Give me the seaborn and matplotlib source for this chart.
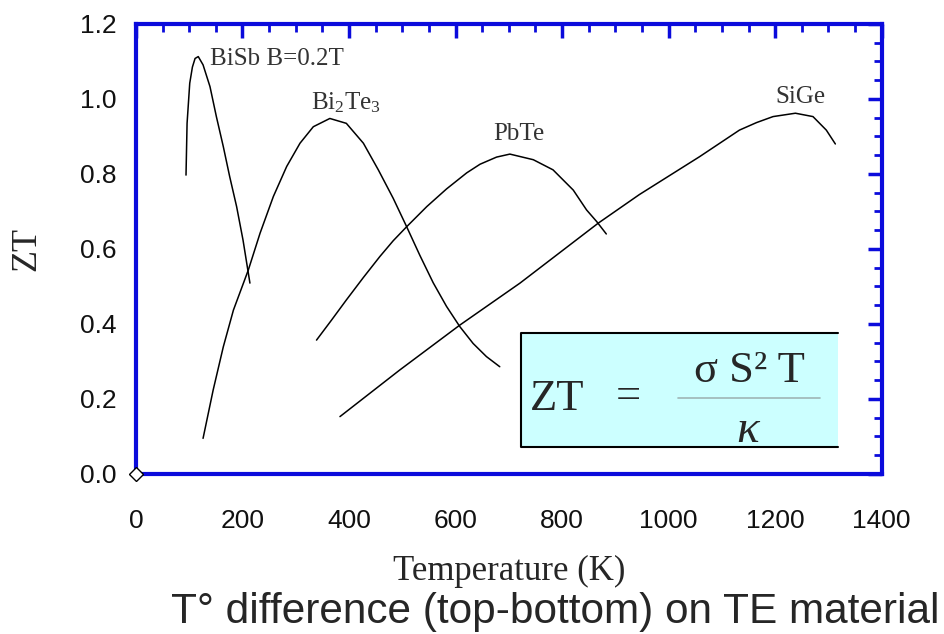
import matplotlib
matplotlib.use("Agg")
import matplotlib.pyplot as plt
from matplotlib.patches import Rectangle
from matplotlib.ticker import MultipleLocator, FormatStrFormatter
import seaborn as sns

# ZT curves (temperature in K, ZT)
bisb_t = [94, 96, 101, 106, 111, 117, 126, 139, 151, 164, 176, 189, 201, 214]
bisb_zt = [0.797, 0.935, 1.042, 1.085, 1.108, 1.113, 1.091, 1.033, 0.953, 0.873,
           0.793, 0.713, 0.624, 0.509]

bi2te3_t = [126, 145, 164, 183, 211, 233, 258, 283, 308, 333, 364, 395, 427, 455,
            483, 508, 533, 558, 583, 608, 633, 658, 683]
bi2te3_zt = [0.095, 0.224, 0.339, 0.437, 0.544, 0.642, 0.740, 0.820, 0.882, 0.926,
             0.948, 0.935, 0.882, 0.811, 0.735, 0.660, 0.583, 0.510, 0.447, 0.393,
             0.348, 0.313, 0.286]

pbte_t = [339, 367, 395, 427, 458, 483, 508, 546, 583, 621, 646, 677, 702, 746,
          783, 821, 846, 865, 883]
pbte_zt = [0.357, 0.410, 0.464, 0.524, 0.580, 0.622, 0.659, 0.713, 0.760, 0.803,
           0.826, 0.845, 0.853, 0.838, 0.811, 0.757, 0.704, 0.673, 0.640]

sige_t = [383, 495, 608, 721, 868, 945, 1058, 1133, 1165, 1196, 1238, 1271, 1296, 1313]
sige_zt = [0.153, 0.277, 0.397, 0.509, 0.669, 0.745, 0.846, 0.917, 0.937, 0.953,
           0.962, 0.953, 0.917, 0.880]

origin_t = [0]
origin_zt = [0]

labels = ["BiSb B=0.2T", "Bi$_2$Te$_3$", "PbTe", "SiGe"]

blue = "#0b0bdc"
serif = "Liberation Serif"
sans = "Liberation Sans"

sns.set_style("white")
plt.rcParams["font.family"] = [sans, "DejaVu Sans"]
plt.rcParams["mathtext.fontset"] = "custom"
plt.rcParams["mathtext.rm"] = serif
plt.rcParams["mathtext.it"] = serif + ":italic"

fig = plt.figure(figsize=(9.44, 6.34), dpi=100)
ax = fig.add_axes([0.144, 0.2524, 0.790, 0.7098])

for t, zt in [(bisb_t, bisb_zt), (bi2te3_t, bi2te3_zt), (pbte_t, pbte_zt), (sige_t, sige_zt)]:
    sns.lineplot(x=t, y=zt, ax=ax, color="black", linewidth=1.1, sort=False, estimator=None)

ax.plot(origin_t, origin_zt, marker="D", markersize=7, mfc="white", mec="black",
        mew=1.0, linestyle="none", clip_on=False, zorder=10)

# curve labels
ax.text(139, 1.107, labels[0], family=serif, fontsize=18, color="#333333", ha="left", va="center")
ax.text(394, 0.99, labels[1], family=serif, fontsize=18, color="#333333", ha="center", va="center")
ax.text(719, 0.907, labels[2], family=serif, fontsize=18, color="#333333", ha="center", va="center")
ax.text(1248, 1.006, labels[3], family=serif, fontsize=18, color="#333333", ha="center", va="center")

# formula box
ax.add_patch(Rectangle((0.516, 0.06), 0.425, 0.253, transform=ax.transAxes,
                       facecolor="#ccffff", edgecolor="none", zorder=3))
ax.plot([0.941, 0.516, 0.516, 0.941], [0.313, 0.313, 0.06, 0.06], transform=ax.transAxes,
        color="black", linewidth=1.5, zorder=4)
ax.text(0.528, 0.142, "ZT", transform=ax.transAxes, family=serif, fontsize=32,
        ha="left", va="baseline", zorder=5)
ax.text(0.66, 0.171, "=", transform=ax.transAxes, family=serif, fontsize=32,
        ha="center", va="center", zorder=5)
ax.text(0.822, 0.205, "σ S² T", transform=ax.transAxes, family=serif, fontsize=32,
        ha="center", va="baseline", zorder=5)
ax.plot([0.727, 0.917], [0.169, 0.169], transform=ax.transAxes, color="#9fb5b5",
        linewidth=1.2, zorder=5)
ax.text(0.82, 0.07, "κ", transform=ax.transAxes, family=serif, fontsize=34,
        style="italic", ha="center", va="baseline", zorder=5)

ax.set_xlim(0, 1400)
ax.set_ylim(0, 1.2)
ax.xaxis.set_major_locator(MultipleLocator(200))
ax.xaxis.set_minor_locator(MultipleLocator(50))
ax.yaxis.set_major_locator(MultipleLocator(0.2))
ax.yaxis.set_minor_locator(MultipleLocator(0.05))
ax.yaxis.set_major_formatter(FormatStrFormatter("%.1f"))

for s in ax.spines.values():
    s.set_color(blue)
    s.set_linewidth(3)
ax.tick_params(which="both", direction="in", top=True, right=True, color=blue,
               labelsize=19, labelcolor="#111111")
ax.tick_params(which="major", length=10, width=2.5)
ax.tick_params(which="minor", length=6, width=2)
ax.tick_params(axis="x", which="major", pad=25)
ax.tick_params(axis="y", which="major", pad=14)

ax.set_xlabel("Temperature (K)", family=serif, fontsize=25, labelpad=16)
ax.set_ylabel("ZT", family=serif, fontsize=26, labelpad=26)

fig.text(0.588, 0.035, "T° difference (top-bottom) on TE material", family=sans,
         fontsize=30.5, ha="center", va="center")

fig.savefig("out.png", dpi=100)
